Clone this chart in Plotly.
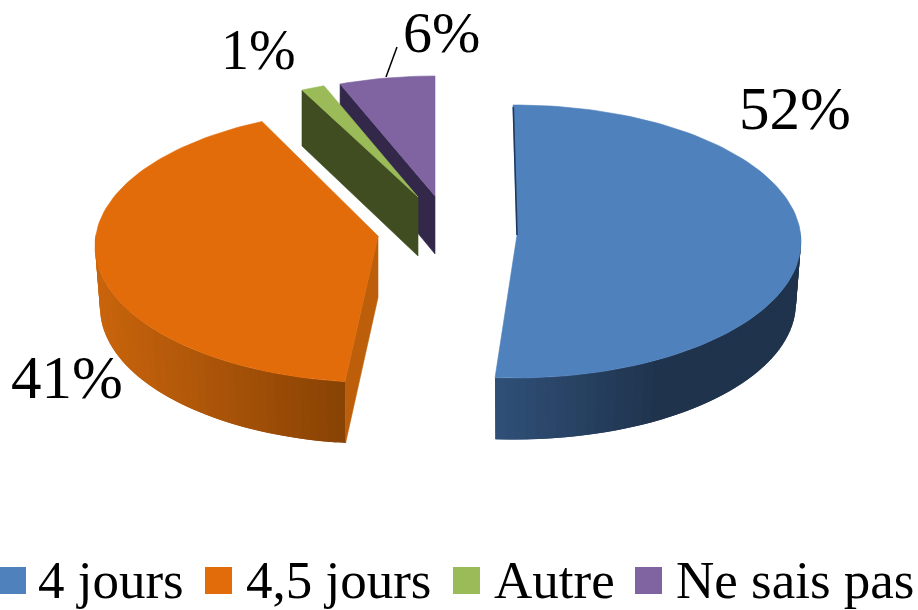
import math
import plotly.graph_objects as go

# Data
categories = ["4 jours", "4,5 jours", "Autre", "Ne sais pas"]
values = [52, 41, 1, 6]

# Style
top_colors = ["#4f81bd", "#e26b0a", "#9bbb59", "#8064a2"]
cut_colors = ["#1f3a5c", "#bd5f0a", "#3f4d20", "#33284a"]
FONT = "Liberation Serif"

# Projected geometry for each exploded slice of the 3D pie (pixel space)
geometry = [
    dict(cx=515, cy=241.5, rx=286, ry=136.5, apex=(517, 235), depth=61.5, rxb=281, d0=-0.4, d1=-3.2),
    dict(cx=378, cy=246, rx=283, ry=136.5, apex=(378, 236), depth=61.5, rxb=278, d0=-0.5, d1=1.0),
    dict(cx=418, cy=215, rx=283, ry=137, apex=(418, 197), depth=59, rxb=283, d0=1.0, d1=2.2),
    dict(cx=435, cy=213, rx=283, ry=137, apex=(435, 196), depth=58, rxb=283, d0=2.0, d1=0.0),
]
# wall gradient (left colour, right colour, x-range of the ramp)
wall_ramps = {
    0: ((0x30, 0x50, 0x78), (0x1f, 0x33, 0x4d), 496, 660),
    1: ((0xc8, 0x64, 0x0c), (0x88, 0x42, 0x04), 100, 345),
}
# visible part of the outer wall, in degrees clockwise from 12 o'clock
wall_spans = {0: (85, None), 1: (None, 275)}

label_pos = [(795, 108), (67, 377), (258, 50), (441, 32)]
label_size = [61, 61, 56, 58]
legend_swatch_x = [-1, 205, 453, 635]
legend_text_x = [36, 244, 492, 674]


def rim(g, t, bottom=False):
    a = math.radians(t)
    rx = g["rxb"] if bottom else g["rx"]
    cy = g["cy"] + (g["depth"] if bottom else 0)
    return g["cx"] + rx * math.sin(a), cy - g["ry"] * math.cos(a)


def poly(fig, pts, color, lw=0.6):
    fig.add_trace(go.Scatter(
        x=[p[0] for p in pts] + [pts[0][0]],
        y=[p[1] for p in pts] + [pts[0][1]],
        mode="lines", fill="toself", fillcolor=color,
        line=dict(color=color, width=lw),
        hoverinfo="skip", showlegend=False,
    ))


def mix(c0, c1, f):
    f = max(0.0, min(1.0, f))
    return "rgb(%d,%d,%d)" % tuple(round(a + (b - a) * f) for a, b in zip(c0, c1))


fig = go.Figure()

angles = []
cum = 0
for v in values:
    angles.append((cum * 3.6, (cum + v) * 3.6))
    cum += v

for i in [3, 2, 1, 0]:
    g = geometry[i]
    t0 = angles[i][0] + g["d0"]
    t1 = angles[i][1] + g["d1"]
    ax, ay = g["apex"]
    d = g["depth"]

    # cut faces
    if i in (2, 3):
        p = rim(g, t0)
        poly(fig, [p, (ax, ay), (ax, ay + d), (p[0], p[1] + d - 3)], cut_colors[i])
    elif i == 1:
        p = rim(g, t0)
        poly(fig, [(ax, ay), p, rim(g, t0, True), (ax, ay + d)], cut_colors[i])

    # outer wall with a gradient made from overlapping strips
    if i in wall_spans:
        s0 = wall_spans[i][0] if wall_spans[i][0] is not None else t0
        s1 = wall_spans[i][1] if wall_spans[i][1] is not None else t1
        c0, c1, xa, xb = wall_ramps[i]
        n = 48
        for k in range(n):
            ta = s0 + (s1 - s0) * k / n
            tb = s0 + (s1 - s0) * min(k + 2, n) / n
            tm = s0 + (s1 - s0) * (k + 0.5) / n
            pa, pb = rim(g, ta), rim(g, tb)
            qa, qb = rim(g, ta, True), rim(g, tb, True)
            fx = (rim(g, tm)[0] - xa) / (xb - xa)
            poly(fig, [pa, pb, qb, qa], mix(c0, c1, fx), lw=0)

    # top face
    n = max(4, int((t1 - t0) / 1.5))
    arc = [rim(g, t0 + (t1 - t0) * k / n) for k in range(n + 1)]
    poly(fig, [(ax, ay)] + arc, top_colors[i])

# thin dark sliver of the blue slice's back cut face
g = geometry[0]
p = rim(g, angles[0][0] + g["d0"])
fig.add_trace(go.Scatter(
    x=[p[0] + 0.3, g["apex"][0]], y=[p[1] + 2, g["apex"][1]], mode="lines",
    line=dict(color=cut_colors[0], width=1.6), hoverinfo="skip", showlegend=False,
))

shapes = [
    # leader line of the 6% label
    dict(type="line", xref="x", yref="y", x0=386, y0=77, x1=397, y1=47,
         line=dict(color="black", width=1.5)),
]
annotations = []
for v, (x, y), s in zip(values, label_pos, label_size):
    annotations.append(dict(x=x, y=y, xref="x", yref="y", text=f"{v}%", showarrow=False,
                            xanchor="center", yanchor="middle",
                            font=dict(family=FONT, size=s, color="black")))
for name, color, sx, tx in zip(categories, top_colors, legend_swatch_x, legend_text_x):
    shapes.append(dict(type="rect", xref="x", yref="y", x0=sx, x1=sx + 27, y0=567, y1=594,
                       fillcolor=color, line=dict(width=0)))
    annotations.append(dict(x=tx, y=580, xref="x", yref="y", text=name, showarrow=False,
                            xanchor="left", yanchor="middle",
                            font=dict(family=FONT, size=53, color="black")))

fig.update_layout(
    width=918, height=610, margin=dict(l=0, r=0, t=0, b=0),
    paper_bgcolor="white", plot_bgcolor="white", showlegend=False,
    xaxis=dict(range=[0, 918], visible=False, fixedrange=True),
    yaxis=dict(range=[610, 0], visible=False, fixedrange=True),
    shapes=shapes, annotations=annotations,
)
fig.write_html("out.html", config=dict(displayModeBar=False),
               post_script="document.body.style.margin='0';document.documentElement.style.overflow='hidden';")
